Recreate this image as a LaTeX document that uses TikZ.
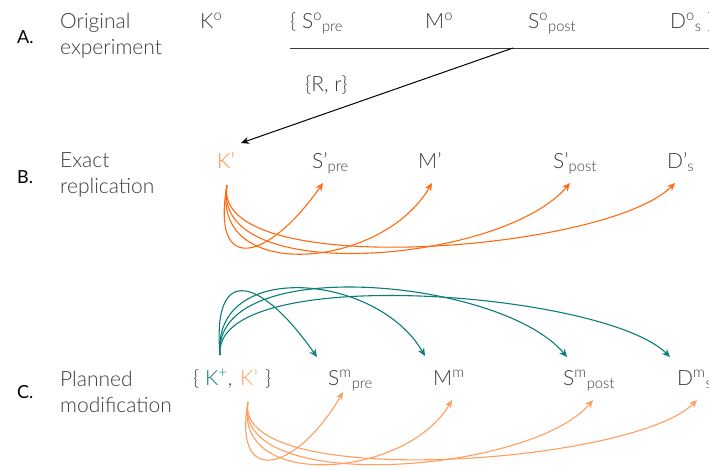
\documentclass[tikz,border=0pt]{standalone}
\usepackage{fontspec}
\setmainfont{Lato}[UprightFont=* Light]
\newfontfamily\lblfont{Lato}
\usepackage{xcolor}
\usetikzlibrary{arrows.meta}

\definecolor{txtgray}{HTML}{3C3C3C}
\definecolor{repor}{HTML}{FF6A10}
\definecolor{repkey}{HTML}{FF8A40}
\definecolor{modor}{HTML}{FF9E5E}
\definecolor{modteal}{HTML}{0A7D7A}

\tikzset{
  rowlbl/.style={anchor=base west, inner sep=0pt, font=\lblfont\fontsize{18}{20}\selectfont, text=black},
  desc/.style={anchor=base west, inner sep=0pt, align=left, font=\fontsize{21}{26}\selectfont, text=txtgray},
  var/.style={anchor=base west, inner sep=0pt, font=\fontsize{21}{26}\selectfont, text=txtgray},
  reparrow/.style={draw=repor, line width=1.1pt, -{Stealth[length=8pt,width=7pt]}},
  tealarrow/.style={draw=modteal, line width=1.1pt, -{Stealth[length=8pt,width=7pt]}},
  modarrow/.style={draw=modor, line width=1.1pt, -{Stealth[length=8pt,width=7pt]}}
}

\begin{document}
\begin{tikzpicture}[x=1pt,y=1pt]
\useasboundingbox (0,0) rectangle (709,-469);

% A. original experiment
\node[rowlbl] (labA) at (17,-43) {A.};
\node[desc] (descA) at (60,-54) {Original\\experiment};
\node[var] (kA) at (200,-28) {K\textsuperscript{o}};
\node[var] (spreA) at (290,-28) {\{ S\textsuperscript{o}\textsubscript{pre}};
\node[var] (mA) at (425,-28) {M\textsuperscript{o}};
\node[var] (spostA) at (528,-28) {S\textsuperscript{o}\textsubscript{post}};
\node[var] (dA) at (670,-28) {D\textsuperscript{o}\textsubscript{s} \}};
\coordinate (lineL) at (290,-48);
\coordinate (lineR) at (709,-48);
\coordinate (splitA) at (513,-48);
\draw[line width=1pt, txtgray] (lineL) -- (lineR);
\node[var] (rr) at (305,-91) {\{R, r\}};

% B. exact replication
\node[rowlbl] (labB) at (17,-183) {B.};
\node[desc] (descB) at (60,-193) {Exact\\replication};
\node[var, text=repkey] (kB) at (217,-168) {K'};
\node[var] (spreB) at (312,-168) {S'\textsubscript{pre}};
\node[var] (mB) at (418,-168) {M'};
\node[var] (spostB) at (553,-168) {S'\textsubscript{post}};
\node[var] (dB) at (667,-168) {D'\textsubscript{s}};
\draw[line width=1pt, -{Stealth[length=8pt,width=7pt]}] (splitA) -- ([shift={(24,25)}]kB.base west);

\draw[reparrow] ([shift={(10,-17)}]kB.base west) to[out=-100,in=-125,looseness=2.5] ([shift={(11,-15)}]spreB.base west);
\draw[reparrow] ([shift={(10,-17)}]kB.base west) to[out=-100,in=-120,looseness=1.25] ([shift={(14,-15)}]mB.base west);
\draw[reparrow] ([shift={(10,-17)}]kB.base west) to[out=-100,in=-130,looseness=0.78] ([shift={(17,-15)}]spostB.base west);
\draw[reparrow] ([shift={(10,-17)}]kB.base west) to[out=-100,in=-135,looseness=0.56] ([shift={(8,-15)}]dB.base west);

% C. planned modification
\node[rowlbl] (labC) at (17,-398) {C.};
\node[desc] (descC) at (60,-412) {Planned\\modification};
\node[var] (lbrC) at (193,-385) {\{};
\node[var, text=modteal] (kplusC) at (205,-385) {K\textsuperscript{+}};
\node[var] (commaC) at (kplusC.base east) {,};
\node[var, text=modor] (kC) at (240,-385) {K'};
\node[var] (rbrC) at (265,-385) {\}};
\node[var] (spreC) at (328,-385) {S\textsuperscript{m}\textsubscript{pre}};
\node[var] (mC) at (433,-385) {M\textsuperscript{m}};
\node[var] (spostC) at (563,-385) {S\textsuperscript{m}\textsubscript{post}};
\node[var] (dC) at (677,-385) {D\textsuperscript{m}\textsubscript{s}};

\draw[tealarrow] ([shift={(15,30)}]kplusC.base west) to[out=95,in=125,looseness=2.5] ([shift={(-11,28)}]spreC.base west);
\draw[tealarrow] ([shift={(15,30)}]kplusC.base west) to[out=95,in=120,looseness=1.2] ([shift={(-8,29)}]mC.base west);
\draw[tealarrow] ([shift={(15,30)}]kplusC.base west) to[out=95,in=130,looseness=0.76] ([shift={(4,28)}]spostC.base west);
\draw[tealarrow] ([shift={(15,30)}]kplusC.base west) to[out=95,in=135,looseness=0.53] ([shift={(-7,28)}]dC.base west);

\draw[modarrow] ([shift={(8,-17)}]kC.base west) to[out=-100,in=-120,looseness=2.4] ([shift={(15,-7)}]spreC.base west);
\draw[modarrow] ([shift={(8,-17)}]kC.base west) to[out=-100,in=-120,looseness=1.14] ([shift={(19,-15)}]mC.base west);
\draw[modarrow] ([shift={(8,-17)}]kC.base west) to[out=-100,in=-130,looseness=0.71] ([shift={(30,-15)}]spostC.base west);
\draw[modarrow] ([shift={(8,-17)}]kC.base west) to[out=-100,in=-135,looseness=0.52] ([shift={(20,-15)}]dC.base west);
\end{tikzpicture}
\end{document}
